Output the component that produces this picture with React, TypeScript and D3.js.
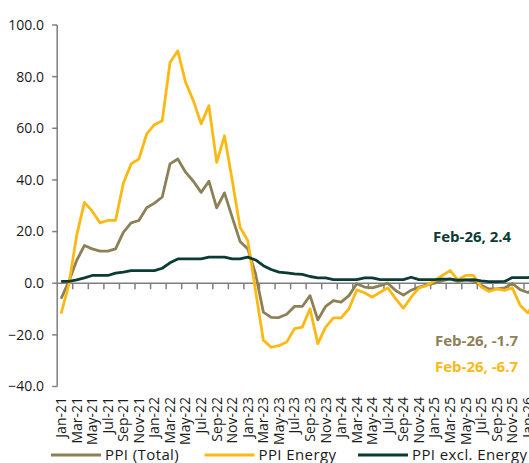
import React from "react";
import * as d3 from "d3";

const categories = [
  "Jan-21","Feb-21","Mar-21","Apr-21","May-21","Jun-21","Jul-21","Aug-21","Sep-21","Oct-21","Nov-21","Dec-21",
  "Jan-22","Feb-22","Mar-22","Apr-22","May-22","Jun-22","Jul-22","Aug-22","Sep-22","Oct-22","Nov-22","Dec-22",
  "Jan-23","Feb-23","Mar-23","Apr-23","May-23","Jun-23","Jul-23","Aug-23","Sep-23","Oct-23","Nov-23","Dec-23",
  "Jan-24","Feb-24","Mar-24","Apr-24","May-24","Jun-24","Jul-24","Aug-24","Sep-24","Oct-24","Nov-24","Dec-24",
  "Jan-25","Feb-25","Mar-25","Apr-25","May-25","Jun-25","Jul-25","Aug-25","Sep-25","Oct-25","Nov-25","Dec-25",
  "Jan-26","Feb-26",
];

const ppiTotal = [
  -6, 0.8, 8.8, 14.6, 13.3, 12.4, 12.4, 13.3, 19.7, 23.4, 24.3, 29.2,
  31, 33.4, 46.2, 48.1, 43, 39.5, 35.2, 39.5, 29.2, 35, 25.5, 16.2,
  13.3, 3.6, -11.2, -13.2, -13.3, -12, -9, -9, -4.8, -14.2, -9, -6.7,
  -7.3, -4.8, -0.2, -1.5, -1.8, -0.9, 0, -2.8, -4.6, -2.7, -1.5, -0.6,
  0, 1, 1.7, 0.7, 1.3, 0.8, -0.8, -2.2, -2.2, -1.8, -0.1, -2.5,
  -3.6, -1.7,
];

const ppiEnergy = [
  -11.8, -0.5, 18.5, 31.3, 27.9, 23.4, 24.3, 24.3, 38.7, 46.2, 48.1, 57.8,
  61.4, 62.9, 85.5, 90.0, 77.8, 70.7, 61.7, 68.7, 46.8, 57.1, 39.8, 21.7,
  16.5, -3, -22.1, -24.8, -24.2, -22.8, -17.6, -17, -9.9, -23.4, -17, -13.4,
  -13.4, -9.9, -2.6, -3.7, -5.4, -3.5, -1.8, -6, -9.7, -5.4, -1.8, -0.9,
  1, 3, 4.9, 1.3, 3, 3, -1.5, -3.2, -2.2, -2.8, -1.8, -8.5,
  -11.5, -6.7,
];

const ppiExEnergy = [
  0.7, 0.7, 1.3, 2.1, 3, 3, 3, 3.9, 4.3, 4.9, 4.9, 4.9,
  4.9, 5.8, 7.9, 9.4, 9.4, 9.4, 9.4, 10.1, 10.1, 10.1, 9.4, 9.4,
  10.1, 9, 6.8, 5.3, 4.3, 4, 3.6, 3.4, 2.6, 2.1, 2.1, 1.4,
  1.4, 1.4, 1.4, 2.1, 2.1, 1.4, 1.4, 1.4, 1.4, 2.3, 1.4, 1.4,
  1.4, 1.6, 1.6, 1.2, 1.3, 1.4, 0.9, 0.6, 0.6, 0.7, 2.2, 2.2,
  2.2, 2.4,
];

const yTicks = [-40, -20, 0, 20, 40, 60, 80, 100];

const seriesNames = ["PPI (Total)", "PPI Energy", "PPI excl. Energy"];
const seriesColors = ["#8C8156", "#FDB913", "#0B3C34"];
const annotations = ["Feb-26, 2.4", "Feb-26, -1.7", "Feb-26, -6.7"];

export default function App() {
  const W = 529, H = 463;
  const left = 57.2, step = 7.78;
  const x = d3.scaleBand<string>().domain(categories).range([left, left + step * categories.length]).padding(0);
  const cx = (c: string) => (x(c) as number) + x.bandwidth() / 2;
  const y = d3.scaleLinear().domain([-40, 100]).range([386.5, 25]);
  const fmt = d3.format(".1f");
  const font = "'Open Sans', 'DejaVu Sans', sans-serif";

  const line = d3.line<number>().x((_, i) => cx(categories[i])).y((v) => y(v));
  const series = [ppiTotal, ppiEnergy, ppiExEnergy];
  const drawOrder = [0, 1, 2];

  const boundaryTicks = d3.range(2, categories.length + 1, 2).map((i) => left + i * step);

  const legendX = [51, 204.5, 358];

  return (
    <svg width={W} height={H} style={{ position: "absolute", left: 0, top: 0, background: "#fff" }} fontFamily={font}>
      {/* Y axis */}
      <line x1={left} x2={left} y1={y(100)} y2={y(-40)} stroke="#7f7f7f" strokeWidth={1.5} />
      {yTicks.map((t) => (
        <g key={t}>
          <line x1={left - 5} x2={left} y1={y(t)} y2={y(t)} stroke="#7f7f7f" strokeWidth={1.5} />
          <text x={44} y={y(t)} dy="0.35em" textAnchor="end" fontSize={14} fill="#1a1a1a">
            {fmt(t)}
          </text>
        </g>
      ))}
      {/* X axis at zero */}
      <line x1={left} x2={W + 20} y1={y(0)} y2={y(0)} stroke="#7f7f7f" strokeWidth={1.5} />
      {boundaryTicks.map((bx, i) => (
        <line key={i} x1={bx} x2={bx} y1={y(0)} y2={y(0) + 6} stroke="#7f7f7f" strokeWidth={1.5} />
      ))}
      {/* Series */}
      {drawOrder.map((s) => (
        <path key={s} d={line(series[s]) || ""} fill="none" stroke={seriesColors[s]} strokeWidth={2.8} strokeLinejoin="round" />
      ))}
      {/* X labels */}
      {categories.map((c, i) =>
        i % 2 === 0 ? (
          <text key={c} transform={`translate(${cx(c)},397) rotate(-90)`} dy="0.35em" textAnchor="end" fontSize={14} fill="#1a1a1a">
            {c}
          </text>
        ) : null
      )}
      {/* Annotations */}
      <text x={433} y={242} fontSize={15} fontWeight={700} fill={seriesColors[2]}>{annotations[0]}</text>
      <text x={435} y={346} fontSize={15} fontWeight={700} fill={seriesColors[0]}>{annotations[1]}</text>
      <text x={435} y={372} fontSize={15} fontWeight={700} fill={seriesColors[1]}>{annotations[2]}</text>
      {/* Legend */}
      {seriesNames.map((n, i) => (
        <g key={n}>
          <line x1={legendX[i]} x2={legendX[i] + 50} y1={455} y2={455} stroke={seriesColors[i]} strokeWidth={3} />
          <text x={legendX[i] + 54} y={455} dy="0.35em" fontSize={15} fill="#1a1a1a" letterSpacing={0.4}>{n}</text>
        </g>
      ))}
    </svg>
  );
}
